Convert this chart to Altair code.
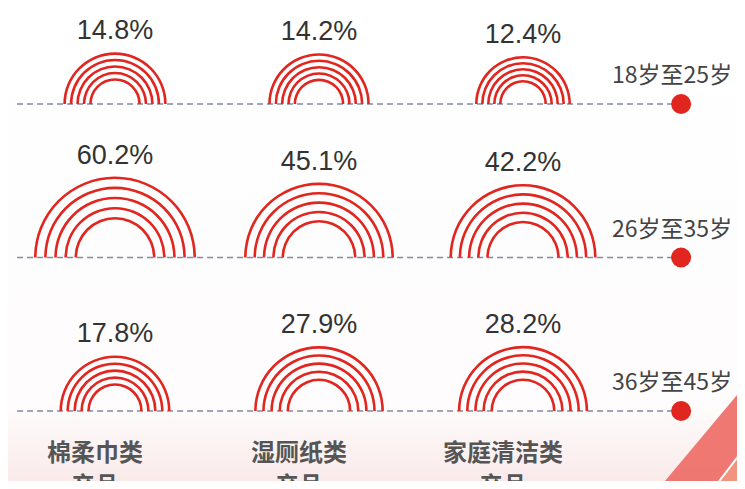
import math
import altair as alt
import pandas as pd

# ---------------- data ----------------
categories = ["棉柔巾类\n产品", "湿厕纸类\n产品", "家庭清洁类\n产品"]
ages = ["18岁至25岁", "26岁至35岁", "36岁至45岁"]
row_18_25 = [14.8, 14.2, 12.4]
row_26_35 = [60.2, 45.1, 42.2]
row_36_45 = [17.8, 27.9, 28.2]
ring_fractions = [0.5, 0.625, 0.75, 0.875, 1.0]

# layout positions in column / row units
col_pos = [0, 1, 2]
row_pos = [0, 1, 2]
dash_start = -0.48
dot_pos = 2.775

# decoration (diagonal red band, bottom-right)
decor_band_x = [2.662, 3.09]
decor_band_y = [2.51, 1.83]
decor_light_x = [2.931, 3.09]
decor_light_y = [2.51, 2.235]
decor_bottom = 2.51

# ---------------- tables ----------------
all_rows = [row_18_25, row_26_35, row_36_45]
cells = []
for r, vals in zip(row_pos, all_rows):
    for c, v in zip(col_pos, vals):
        cells.append({"col": c, "row": r, "value": v, "label": f"{v}%"})
cells = pd.DataFrame(cells)

rows_df = pd.DataFrame({"row": row_pos, "age": ages,
                        "x0": [dash_start] * 3, "x1": [dot_pos] * 3})
cats_df = pd.DataFrame({"col": col_pos, "cat": categories, "row": [2] * 3})
band_df = pd.DataFrame({"x": decor_band_x, "y": decor_band_y, "y2": [decor_bottom] * 2})
light_df = pd.DataFrame({"x": decor_light_x, "y": decor_light_y, "y2": [decor_bottom] * 2})

W, H = 729, 473
xs = alt.Scale(domain=[-0.5245, 3.049], nice=False, zero=False)
ys = alt.Scale(domain=[-0.6254, 2.456], nice=False, zero=False, reverse=True)


def X(f):
    return alt.X(f, type="quantitative", scale=xs, axis=None)


def Y(f):
    return alt.Y(f, type="quantitative", scale=ys, axis=None)


RED = "#e1251f"
CJK = "Noto Sans CJK SC"

bg = alt.Chart(alt.Data(values=[{"a": 1}])).mark_rect(
    color=alt.Gradient(
        gradient="linear",
        stops=[alt.GradientStop(color="#ffffff", offset=0),
               alt.GradientStop(color="#fefcfc", offset=0.84),
               alt.GradientStop(color="#faeaea", offset=1)],
        x1=0, x2=0, y1=0, y2=1)
).encode(x=alt.value(0), x2=alt.value(W), y=alt.value(0), y2=alt.value(H))

band = alt.Chart(band_df).mark_area(color="#ee716c", clip=True, opacity=0.95).encode(
    x=X("x"), y=Y("y"), y2="y2")
light = alt.Chart(light_df).mark_area(color="#f2937f", clip=True).encode(
    x=X("x"), y=Y("y"), y2="y2")
light_edge = alt.Chart(light_df).mark_line(color="#ffffff", strokeWidth=2, clip=True).encode(
    x=X("x"), y=Y("y"))

dash = alt.Chart(rows_df).mark_rule(color="#8489a3", strokeWidth=1.4,
                                    strokeDash=[6, 4]).encode(
    x=X("x0"), x2="x1", y=Y("row"))

rings = []
for f in ring_fractions:
    rings.append(
        alt.Chart(cells).mark_arc(theta=3 * math.pi / 2, theta2=5 * math.pi / 2,
                                  color=RED, radius2Offset=-2.6).encode(
            x=X("col"), y=Y("row"),
            radius=alt.Radius("value:Q", scale=alt.Scale(type="log", domain=[12.4, 60.2],
                                                         range=[48 * f, 81 * f], zero=False)),
            radius2=alt.Radius2("value"),
        )
    )

pct = alt.Chart(cells).mark_text(font="Liberation Sans", fontSize=27, color="#333333",
                                 baseline="middle", align="center", theta=0).encode(
    x=X("col"), y=Y("row"),
    radius=alt.Radius("value:Q", scale=alt.Scale(type="log", domain=[12.4, 60.2],
                                                 range=[69, 102], zero=False)),
    text="label:N")

dots = alt.Chart(rows_df).mark_circle(size=400, color=RED, opacity=1).encode(
    x=X("x1"), y=Y("row"))

age_txt = alt.Chart(rows_df).mark_text(font=CJK, fontSize=23, color="#444444",
                                       baseline="middle", align="center", dy=-28, dx=-9).encode(
    x=X("x1"), y=Y("row"), text="age:N")

cat_txt = alt.Chart(cats_df).mark_text(font=CJK, fontSize=24, color="#555555", fontWeight="bold",
                                       baseline="top", align="center", dx=-20, dy=31,
                                       lineBreak="\n", lineHeight=33).encode(
    x=X("col"), y=Y("row"), text="cat:N")

chart = alt.layer(bg, band, light, light_edge, dash, *rings, pct, dots, age_txt, cat_txt).resolve_scale(
    radius="independent"
).properties(width=W, height=H, padding=0, autosize="none", background="#ffffff").configure_view(stroke=None)

chart.save("out.html", embed_options={"renderer": "svg", "actions": False})
